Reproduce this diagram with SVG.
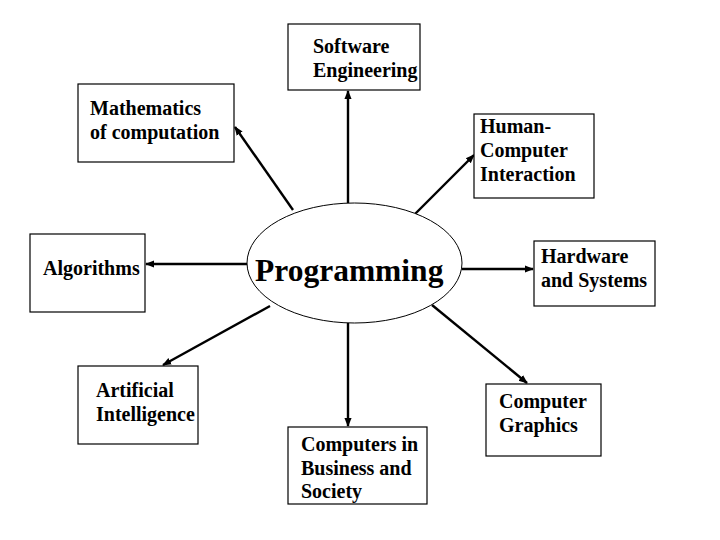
<svg xmlns="http://www.w3.org/2000/svg" width="720" height="540" viewBox="0 0 720 540">
<style>
.box{fill:#fff;stroke:#000;stroke-width:1.2}
.t{font-family:"Liberation Serif","Times New Roman",serif;font-weight:bold;font-size:20px;fill:#000}
.big{font-family:"Liberation Serif","Times New Roman",serif;font-weight:bold;font-size:31.5px;fill:#000}
.c{stroke:#000;stroke-width:2.4;fill:none;marker-end:url(#ah)}
</style>
<defs>
<marker id="ah" markerUnits="userSpaceOnUse" markerWidth="9" markerHeight="9" viewBox="0 0 10 10" refX="9" refY="5" orient="auto">
<path d="M0,1 L10,5 L0,9 Z" fill="#000"/>
</marker>
</defs>
<rect width="720" height="540" fill="#fff"/>
<g id="connectors">
<line class="c" x1="348" y1="203" x2="348" y2="91"/>
<line class="c" x1="293" y1="210" x2="235" y2="127"/>
<line class="c" x1="414" y1="215" x2="474" y2="155"/>
<line class="c" x1="247" y1="264" x2="146" y2="264"/>
<line class="c" x1="270" y1="306" x2="163" y2="365"/>
<line class="c" x1="348" y1="323" x2="348" y2="426"/>
<line class="c" x1="462" y1="269" x2="533" y2="269"/>
<line class="c" x1="432" y1="305" x2="527" y2="383"/>
</g>
<g id="programming">
<ellipse cx="354.5" cy="263" rx="107.5" ry="60" fill="#fff" stroke="#000" stroke-width="1"/>
<text class="big" x="255" y="281">Programming</text>
</g>
<g id="software-engineering">
<rect class="box" x="288" y="24" width="132" height="66"/>
<text class="t" x="313" y="53">Software</text>
<text class="t" x="313" y="77">Engineering</text>
</g>
<g id="mathematics">
<rect class="box" x="78" y="84" width="156" height="78"/>
<text class="t" x="90" y="115">Mathematics</text>
<text class="t" x="90" y="139">of computation</text>
</g>
<g id="hci">
<rect class="box" x="474" y="114" width="120" height="84"/>
<text class="t" x="480" y="133">Human-</text>
<text class="t" x="480" y="157">Computer</text>
<text class="t" x="480" y="181">Interaction</text>
</g>
<g id="algorithms">
<rect class="box" x="30" y="234" width="115" height="78"/>
<text class="t" x="43" y="275">Algorithms</text>
</g>
<g id="hardware">
<rect class="box" x="534" y="241" width="121" height="65"/>
<text class="t" x="541" y="263">Hardware</text>
<text class="t" x="541" y="287">and Systems</text>
</g>
<g id="ai">
<rect class="box" x="78" y="366" width="120" height="78"/>
<text class="t" x="96" y="397">Artificial</text>
<text class="t" x="96" y="421">Intelligence</text>
</g>
<g id="business">
<rect class="box" x="288" y="427" width="139" height="77"/>
<text class="t" x="301" y="451">Computers in</text>
<text class="t" x="301" y="475">Business and</text>
<text class="t" x="301" y="498">Society</text>
</g>
<g id="graphics">
<rect class="box" x="486" y="384" width="115" height="72"/>
<text class="t" x="499" y="408">Computer</text>
<text class="t" x="499" y="432">Graphics</text>
</g>
</svg>
